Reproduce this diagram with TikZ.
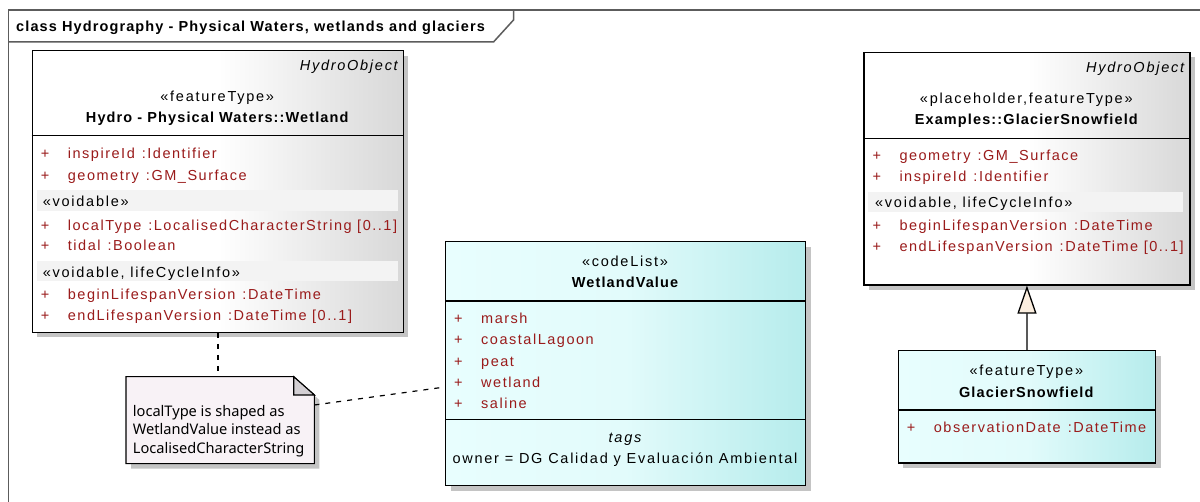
\documentclass[tikz,border=0pt]{standalone}
\usepackage{fontspec}
\setmainfont{Liberation Sans}
\newfontfamily\umlfamily[LetterSpace=12]{Liberation Sans}
\newfontfamily\umlattrfamily[LetterSpace=10.5]{Liberation Sans}
\newfontfamily\umlbfamily[LetterSpace=7.7]{Liberation Sans}
\newfontfamily\notefamily{Noto Sans}
\usetikzlibrary{arrows.meta,shadows,calc}

\definecolor{attrred}{HTML}{9A1B1B}
\definecolor{framegray}{HTML}{5C5C5C}
\definecolor{shadowgray}{HTML}{C4C4C4}
\definecolor{boxgrayR}{HTML}{D8D8D8}
\definecolor{cyanL}{HTML}{E8FEFE}
\definecolor{cyanM}{HTML}{E2FBFB}
\definecolor{cyanR}{HTML}{B6ECEC}
\definecolor{bandgray}{HTML}{F3F3F3}
\definecolor{notefill}{HTML}{F8F2F6}
\definecolor{foldgray}{HTML}{D3CFD3}
\definecolor{gencream}{HTML}{FBEEDF}

\newcommand\umlsize{\fontsize{14.5}{17}\selectfont}
\newcommand\typesep{\hspace{7pt}}

\tikzset{
  umltext/.style={inner sep=0pt, anchor=base west, font=\umlfamily\umlsize},
  attrtxt/.style={umltext, text=attrred, font=\umlattrfamily\umlsize},
  ctext/.style={umltext, anchor=base},
  nametxt/.style={ctext, font=\umlbfamily\umlsize\bfseries},
  parenttxt/.style={umltext, anchor=base east, font=\umlfamily\umlsize\itshape},
  notetxt/.style={inner sep=0pt, anchor=base west, font=\notefamily\fontsize{14.6}{18}\selectfont},
  classbox/.style={draw=black, line width=1.3pt, inner sep=0pt, anchor=north west,
    drop shadow={shadow xshift=5pt, shadow yshift=-5pt, fill=shadowgray, opacity=1}},
  graybox/.style={classbox, left color=white, right color=boxgrayR, middle color=white},
  cyanbox/.style={classbox, left color=cyanL, right color=cyanR, middle color=cyanM},
  sepline/.style={draw=black, line width=1.1pt},
  band/.style={fill=bandgray},
  noteline/.style={draw=black, line width=1.2pt, dash pattern=on 5pt off 6pt},
  frameline/.style={draw=framegray, line width=1.5pt},
}

% one attribute row: node name, box left x, baseline y, text
\newcommand\umlattr[4]{%
  \node[attrtxt] (#1-p) at (#2+9,#3) {+};
  \node[attrtxt] (#1) at (#2+36,#3) {#4};}

\begin{document}
\begin{tikzpicture}[x=1pt,y=-1pt]
\fill[white] (0,0) rectangle (1200,502);
\useasboundingbox (0,0) rectangle (1200,502);

% diagram frame and its name tab
\draw[frameline] (8.5,502) -- (8.5,10) -- (1200,10);
\draw[frameline] (8.5,42) -- (493.5,42) -- (513.5,20) -- (513.5,10);
\node[umltext, font=\umlbfamily\umlsize\bfseries] (title) at (16,31.5)
  {class Hydrography - Physical Waters, wetlands and glaciers};

% ---------- Wetland ----------
\node[graybox, minimum width=371pt, minimum height=281.7pt] (wetland) at (31.7,50) {};
\draw[sepline] (31.7,135.7) -- (402.7,135.7);
\fill[band] (36.7,190) rectangle (397.7,211);
\fill[band] (36.7,261) rectangle (397.7,281);
\node[parenttxt] (wetland-parent) at (398,71) {HydroObject};
\node[ctext] (wetland-st) at (217.2,102) {«featureType»};
\node[nametxt] (wetland-name) at (217.2,123) {Hydro - Physical Waters::Wetland};
\umlattr{w1}{31.7}{158.5}{inspireId\typesep:Identifier}
\umlattr{w2}{31.7}{181}{geometry\typesep:GM\_Surface}
\node[umltext] (w-void) at (42.7,206.5) {«voidable»};
\umlattr{w3}{31.7}{230.5}{localType\typesep:LocalisedCharacterString [0..1]}
\umlattr{w4}{31.7}{251}{tidal\typesep:Boolean}
\node[umltext] (w-vlc) at (42.7,277.5) {«voidable, lifeCycleInfo»};
\umlattr{w5}{31.7}{299.5}{beginLifespanVersion\typesep:DateTime}
\umlattr{w6}{31.7}{321}{endLifespanVersion\typesep:DateTime [0..1]}

% ---------- Examples::GlacierSnowfield ----------
\node[graybox, minimum width=326pt, minimum height=232.6pt] (examples) at (863.3,51.7) {};
\draw[sepline] (863.3,138.3) -- (1189.3,138.3);
\fill[band] (868.3,192.3) rectangle (1183.3,211.7);
\node[parenttxt] (examples-parent) at (1184.3,73) {HydroObject};
\node[ctext] (examples-st) at (1026.3,103.5) {«placeholder,featureType»};
\node[nametxt] (examples-name) at (1026.3,124.5) {Examples::GlacierSnowfield};
\umlattr{e1}{863.3}{160.5}{geometry\typesep:GM\_Surface}
\umlattr{e2}{863.3}{182}{inspireId\typesep:Identifier}
\node[umltext] (e-vlc) at (875,207.5) {«voidable, lifeCycleInfo»};
\umlattr{e3}{863.3}{231}{beginLifespanVersion\typesep:DateTime}
\umlattr{e4}{863.3}{252}{endLifespanVersion\typesep:DateTime [0..1]}

% ---------- WetlandValue ----------
\node[cyanbox, minimum width=360pt, minimum height=244pt] (wv) at (445,241) {};
\draw[sepline] (445,301) -- (805,301);
\draw[sepline] (445,419.3) -- (805,419.3);
\node[ctext] (wv-st) at (625,267) {«codeList»};
\node[nametxt] (wv-name) at (625,288) {WetlandValue};
\umlattr{v1}{445}{323.5}{marsh}
\umlattr{v2}{445}{345}{coastalLagoon}
\umlattr{v3}{445}{366.5}{peat}
\umlattr{v4}{445}{387.5}{wetland}
\umlattr{v5}{445}{409}{saline}
\node[ctext, font=\umlfamily\umlsize\itshape] (wv-tags) at (625,443) {tags};
\node[ctext] (wv-owner) at (625,463.5) {owner = DG Calidad y Evaluación Ambiental};

% ---------- GlacierSnowfield ----------
\node[cyanbox, minimum width=257.3pt, minimum height=112.3pt] (glacier) at (897.7,350) {};
\draw[sepline] (897.7,410) -- (1155,410);
\node[ctext] (glacier-st) at (1026.3,375.5) {«featureType»};
\node[nametxt] (glacier-name) at (1026.3,398) {GlacierSnowfield};
\umlattr{g1}{897.7}{432.5}{observationDate\typesep:DateTime}

% ---------- note ----------
\node[inner sep=0pt, minimum width=188pt, minimum height=86.6pt, anchor=north west] (note) at (126,376.7) {};
\draw[fill=notefill, line width=1.1pt,
      drop shadow={shadow xshift=5pt, shadow yshift=-5pt, fill=shadowgray, opacity=1}]
  (note.north west) -- ($(note.north east)+(-20.7,0)$) -- ($(note.north east)+(0,18.3)$)
  -- (note.south east) -- (note.south west) -- cycle;
\draw[fill=foldgray, line width=1.1pt]
  ($(note.north east)+(-20.7,0)$) -- ($(note.north east)+(0,18.3)$) -- ($(note.north east)+(-20.7,18.3)$) -- cycle;
\node[notetxt] (note-l1) at (132.7,416.5) {localType is shaped as};
\node[notetxt] (note-l2) at (132.7,434.8) {WetlandValue instead as};
\node[notetxt] (note-l3) at (132.7,453.1) {LocalisedCharacterString};

% ---------- connectors ----------
\coordinate (noteX) at (218,0);
\coordinate (noteY) at (0,405);
\coordinate (wvY) at (0,387);
\draw[noteline] (wetland.south -| noteX) -- (note.north -| noteX);
\draw[noteline] (note.east |- noteY) -- (wv.west |- wvY);
\draw[line width=1.3pt, -{Triangle[width=19pt,length=28pt,fill=gencream]}]
  (glacier.north) -- (examples.south);
\end{tikzpicture}
\end{document}
